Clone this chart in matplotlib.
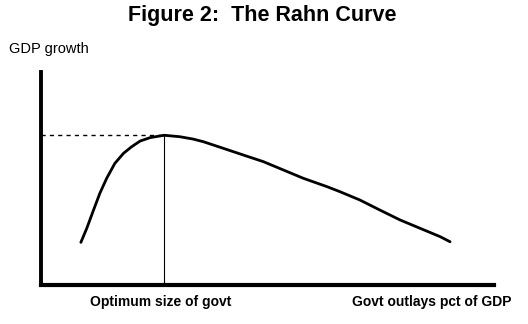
import matplotlib
matplotlib.use('Agg')
import matplotlib.pyplot as plt

# Rahn curve (x: govt outlays, y: GDP growth, both 0-100)
curve_x = [8.8, 10.1, 11.6, 13.0, 14.5, 16.3, 18.2, 20.0, 21.9, 24.1, 27.2,
           30.7, 33.6, 35.8, 40.2, 44.7, 49.1, 53.5, 57.9, 63.1, 66.0, 70.4,
           74.8, 79.3, 83.7, 88.1, 90.3]
curve_y = [20.0, 26.6, 35.2, 43.1, 50.1, 57.1, 61.8, 64.9, 67.6, 69.2, 70.3,
           69.6, 68.5, 67.3, 64.2, 61.0, 57.9, 54.0, 50.1, 46.2, 43.8, 39.9,
           35.2, 30.5, 26.6, 22.7, 20.3]
peak_x = 27.2
peak_y = 70.4

title = 'Figure 2:  The Rahn Curve'
y_label = 'GDP growth'
opt_label = 'Optimum size of govt'
x_label = 'Govt outlays pct of GDP'

plt.rcParams['font.family'] = ['Liberation Sans', 'DejaVu Sans']

fig = plt.figure(figsize=(5.28, 3.24), dpi=100)
ax = fig.add_axes([41 / 528, 39 / 324, 453 / 528, 213 / 324])

ax.plot(curve_x, curve_y, color='black', lw=2.0, solid_capstyle='round',
        solid_joinstyle='round')
ax.plot([0, peak_x], [peak_y, peak_y], color='black', lw=1.0, ls=(0, (3, 3)))
ax.plot([peak_x, peak_x], [0, peak_y], color='black', lw=0.8)

ax.set_xlim(0, 100)
ax.set_ylim(0, 100)
ax.set_xticks([])
ax.set_yticks([])
for s in ['top', 'right']:
    ax.spines[s].set_visible(False)
ax.spines['left'].set_linewidth(2.8)
ax.spines['bottom'].set_linewidth(3.0)
ax.spines['left'].set_capstyle('projecting')
ax.spines['bottom'].set_capstyle('projecting')

fig.text(262 / 528, 1 - 15 / 324, title, ha='center', va='center',
         fontsize=15.5, fontweight='bold')
fig.text(9 / 528, 1 - 49 / 324, y_label, ha='left', va='center', fontsize=10.5)
ax.text(peak_x - 0.8, -8, opt_label, ha='center', va='center', fontsize=10,
        fontweight='bold', clip_on=False)
fig.text(512 / 528, 1 - 302 / 324, x_label, ha='right', va='center',
         fontsize=10, fontweight='bold')

fig.savefig('out.png', dpi=100)
